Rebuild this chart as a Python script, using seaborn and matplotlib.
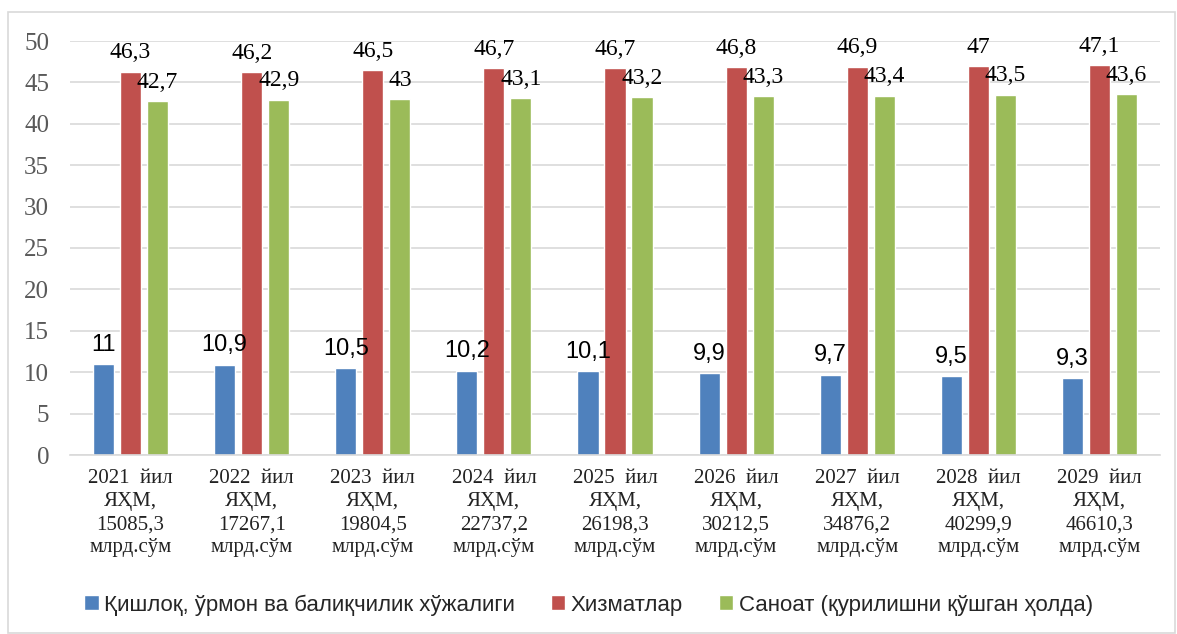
import pandas as pd
import seaborn as sns
import matplotlib.pyplot as plt
from matplotlib.patches import Rectangle

years = ["2021", "2022", "2023", "2024", "2025", "2026", "2027", "2028", "2029"]
gdp = ["15085,3", "17267,1", "19804,5", "22737,2", "26198,3", "30212,5", "34876,2", "40299,9", "46610,3"]
series = ["Қишлоқ, ўрмон ва балиқчилик хўжалиги", "Хизматлар", "Саноат (қурилишни қўшган ҳолда)"]
agri = [11, 10.9, 10.5, 10.2, 10.1, 9.9, 9.7, 9.5, 9.3]
services = [46.3, 46.2, 46.5, 46.7, 46.7, 46.8, 46.9, 47, 47.1]
industry = [42.7, 42.9, 43, 43.1, 43.2, 43.3, 43.4, 43.5, 43.6]
colors = ["#4F81BD", "#C0504D", "#9BBB59"]

cats = [f"{y}  йил\nЯҲМ,\n{g}\nмлрд.сўм" for y, g in zip(years, gdp)]
rows = []
for name, vals in zip(series, [agri, services, industry]):
    for c, v in zip(cats, vals):
        rows.append({"cat": c, "series": name, "value": v})
df = pd.DataFrame(rows)

sns.set_style("white")
plt.rcParams["font.family"] = ["Liberation Serif", "DejaVu Serif"]
fig = plt.figure(figsize=(11.77, 6.34), dpi=100)
ax = fig.add_axes([70 / 1177, 1 - 455 / 634, 1090 / 1177, 414 / 634])

sns.barplot(data=df, x="cat", y="value", hue="series", palette=colors,
            width=0.67, gap=0.22, saturation=1, ax=ax, legend=True)

ax.set_ylim(0, 50)
ax.set_yticks(range(0, 51, 5))
ax.yaxis.grid(True, color="#d9d9d9", linewidth=1.2)
ax.set_axisbelow(True)
for s in ["top", "right", "left"]:
    ax.spines[s].set_visible(False)
ax.spines["bottom"].set_color("#d9d9d9")
ax.spines["bottom"].set_linewidth(1.2)
ax.set_xlabel("")
ax.set_ylabel("")
ax.tick_params(axis="y", length=0, pad=15, labelsize=18, labelcolor="#595959")
ax.tick_params(axis="x", length=0, pad=10, labelsize=15, labelcolor="#222222")
for t in ax.get_xticklabels():
    t.set_linespacing(1.3)

for i, cont in enumerate(ax.containers):
    fam = "Liberation Sans" if i == 0 else "Liberation Serif"
    labels = [f"{v:g}".replace(".", ",") for v in cont.datavalues]
    ax.bar_label(cont, labels=labels, padding=6, fontsize=17, family=fam, color="black")

handles, lbls = ax.get_legend_handles_labels()
ax.legend(handles, lbls, loc="center", bbox_to_anchor=(0.5, 1 - 605 / 634),
          bbox_transform=fig.transFigure, ncol=3, frameon=False,
          prop={"family": "Liberation Sans", "size": 16},
          handlelength=0.65, handleheight=0.65, handletextpad=0.25, columnspacing=1.6)

fig.patches.append(Rectangle((8 / 1177, 1 / 634), 1167 / 1177, 621 / 634,
                             transform=fig.transFigure, fill=False,
                             edgecolor="#d9d9d9", linewidth=1.2))

fig.savefig("out.png", dpi=100)
